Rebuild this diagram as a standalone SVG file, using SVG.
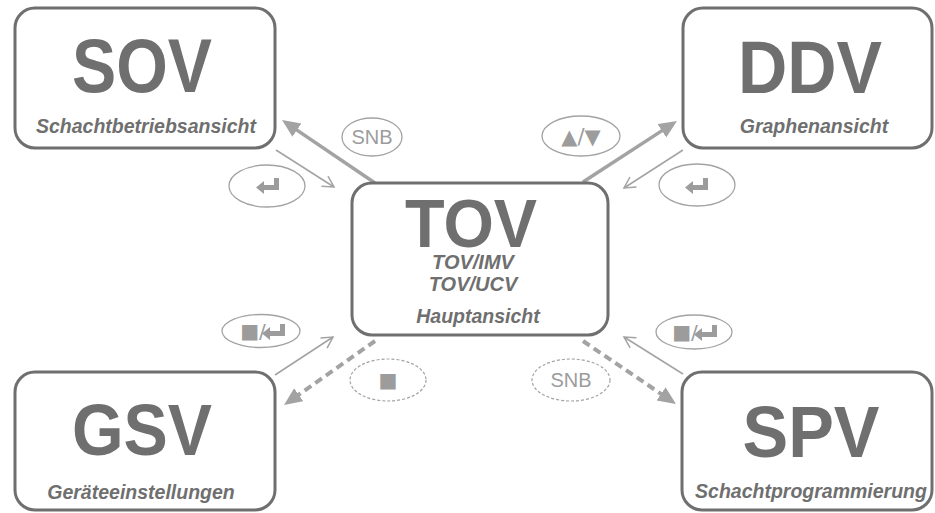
<svg xmlns="http://www.w3.org/2000/svg" width="935" height="513" viewBox="0 0 935 513">
<style>
.box{fill:#fff;stroke:#6f6f6f;stroke-width:3}
.big{font-family:"Liberation Sans",Arial,sans-serif;font-weight:bold;fill:#6f6f6f;text-anchor:middle}
.sub{font-family:"Liberation Sans",Arial,sans-serif;font-weight:bold;font-style:italic;fill:#6f6f6f;text-anchor:middle}
.thick{stroke:#a3a3a3;stroke-width:3.5;fill:none}
.dash{stroke:#a3a3a3;stroke-width:4;fill:none;stroke-dasharray:8 5}
.thin{stroke:#a3a3a3;stroke-width:1.5;fill:none}
.lbl{fill:#fff;stroke:#a3a3a3;stroke-width:1.3}
.lbld{fill:#fff;stroke:#a3a3a3;stroke-width:1.2;stroke-dasharray:3 2}
.lt{font-family:"Liberation Sans",Arial,sans-serif;fill:#9c9c9c;text-anchor:middle}
.sym{font-family:"DejaVu Sans","Liberation Sans",sans-serif;fill:#9c9c9c;text-anchor:middle}
.ret{fill:#9c9c9c}
</style>
<defs>
<marker id="fa" markerUnits="userSpaceOnUse" markerWidth="20" markerHeight="18" refX="8" refY="8" orient="auto"><path d="M0,0 L18,8 L0,16 z" fill="#a3a3a3"/></marker>
<marker id="oa" markerUnits="userSpaceOnUse" markerWidth="16" markerHeight="16" refX="12" refY="7" orient="auto"><path d="M1,1 L12,7 L1,13" fill="none" stroke="#a3a3a3" stroke-width="1.5"/></marker>
<path id="retIcon" d="M11,-8 L11,4 L-4,4 L-4,8 L-12,1.5 L-4,-5 L-4,-1 L6,-1 L6,-8 z"/>
</defs>

<g id="connectors">
<line class="thick" x1="375" y1="183" x2="290.3" y2="125.6" marker-end="url(#fa)"/>
<line class="thin" x1="276" y1="150" x2="334" y2="187" marker-end="url(#oa)"/>
<line class="thick" x1="583" y1="182" x2="668.6" y2="126.4" marker-end="url(#fa)"/>
<line class="thin" x1="683" y1="150" x2="624" y2="188" marker-end="url(#oa)"/>
<line class="dash" x1="375" y1="341" x2="292.2" y2="399.3" marker-end="url(#fa)"/>
<line class="thin" x1="275" y1="375" x2="333" y2="337" marker-end="url(#oa)"/>
<line class="dash" x1="583" y1="341" x2="667.7" y2="398.4" marker-end="url(#fa)"/>
<line class="thin" x1="683" y1="374" x2="624" y2="337" marker-end="url(#oa)"/>
</g>

<g id="labels">
<g id="lbl-snb-top"><ellipse class="lbl" cx="372" cy="137" rx="30" ry="19"/><text class="lt" x="372" y="144" font-size="20">SNB</text></g>
<g id="lbl-ret-left"><ellipse class="lbl" cx="267" cy="186" rx="38" ry="21"/><use href="#retIcon" class="ret" x="268" y="186"/></g>
<g id="lbl-updown"><ellipse class="lbl" cx="581" cy="136" rx="39" ry="20"/><text class="sym" x="581" y="144" font-size="21">▲/▼</text></g>
<g id="lbl-ret-right"><ellipse class="lbl" cx="697" cy="185" rx="38" ry="21"/><use href="#retIcon" class="ret" x="697" y="186"/></g>
<g id="lbl-stopret-left"><ellipse class="lbl" cx="261" cy="331" rx="39" ry="16.5"/><text class="sym" x="253" y="338" font-size="20">■/</text><use href="#retIcon" class="ret" x="274" y="332"/></g>
<g id="lbl-stop"><ellipse class="lbld" cx="388" cy="380" rx="38" ry="21"/><text class="sym" x="388" y="387" font-size="20">■</text></g>
<g id="lbl-snb-bottom"><ellipse class="lbld" cx="571" cy="380" rx="39" ry="21"/><text class="lt" x="571" y="387" font-size="20">SNB</text></g>
<g id="lbl-stopret-right"><ellipse class="lbl" cx="694" cy="332" rx="38" ry="17"/><text class="sym" x="685" y="339" font-size="20">■/</text><use href="#retIcon" class="ret" x="706" y="333"/></g>
</g>

<g id="SOV"><rect class="box" x="15" y="8" width="260" height="140" rx="20"/><text class="big" x="142" y="92" font-size="76" textLength="140" lengthAdjust="spacingAndGlyphs">SOV</text><text class="sub" x="146" y="133" font-size="19.5">Schachtbetriebsansicht</text></g>
<g id="DDV"><rect class="box" x="683" y="8" width="249" height="140" rx="20"/><text class="big" x="810" y="93" font-size="74" textLength="144" lengthAdjust="spacingAndGlyphs">DDV</text><text class="sub" x="814" y="133" font-size="19.5">Graphenansicht</text></g>
<g id="TOV"><rect class="box" x="352" y="183" width="256" height="152" rx="20"/><text class="big" x="471" y="247" font-size="68" textLength="132" lengthAdjust="spacingAndGlyphs">TOV</text><text class="sub" x="473" y="269" font-size="20">TOV/IMV</text><text class="sub" x="473" y="291" font-size="20">TOV/UCV</text><text class="sub" x="478" y="323" font-size="19.5">Hauptansicht</text></g>
<g id="GSV"><rect class="box" x="15" y="372" width="260" height="138" rx="20"/><text class="big" x="142" y="455" font-size="72" textLength="140" lengthAdjust="spacingAndGlyphs">GSV</text><text class="sub" x="141" y="499" font-size="19.5">Geräteeinstellungen</text></g>
<g id="SPV"><rect class="box" x="682" y="372" width="250" height="138" rx="20"/><text class="big" x="811" y="457" font-size="72" textLength="137" lengthAdjust="spacingAndGlyphs">SPV</text><text class="sub" x="811" y="498" font-size="19.5">Schachtprogrammierung</text></g>
</svg>
